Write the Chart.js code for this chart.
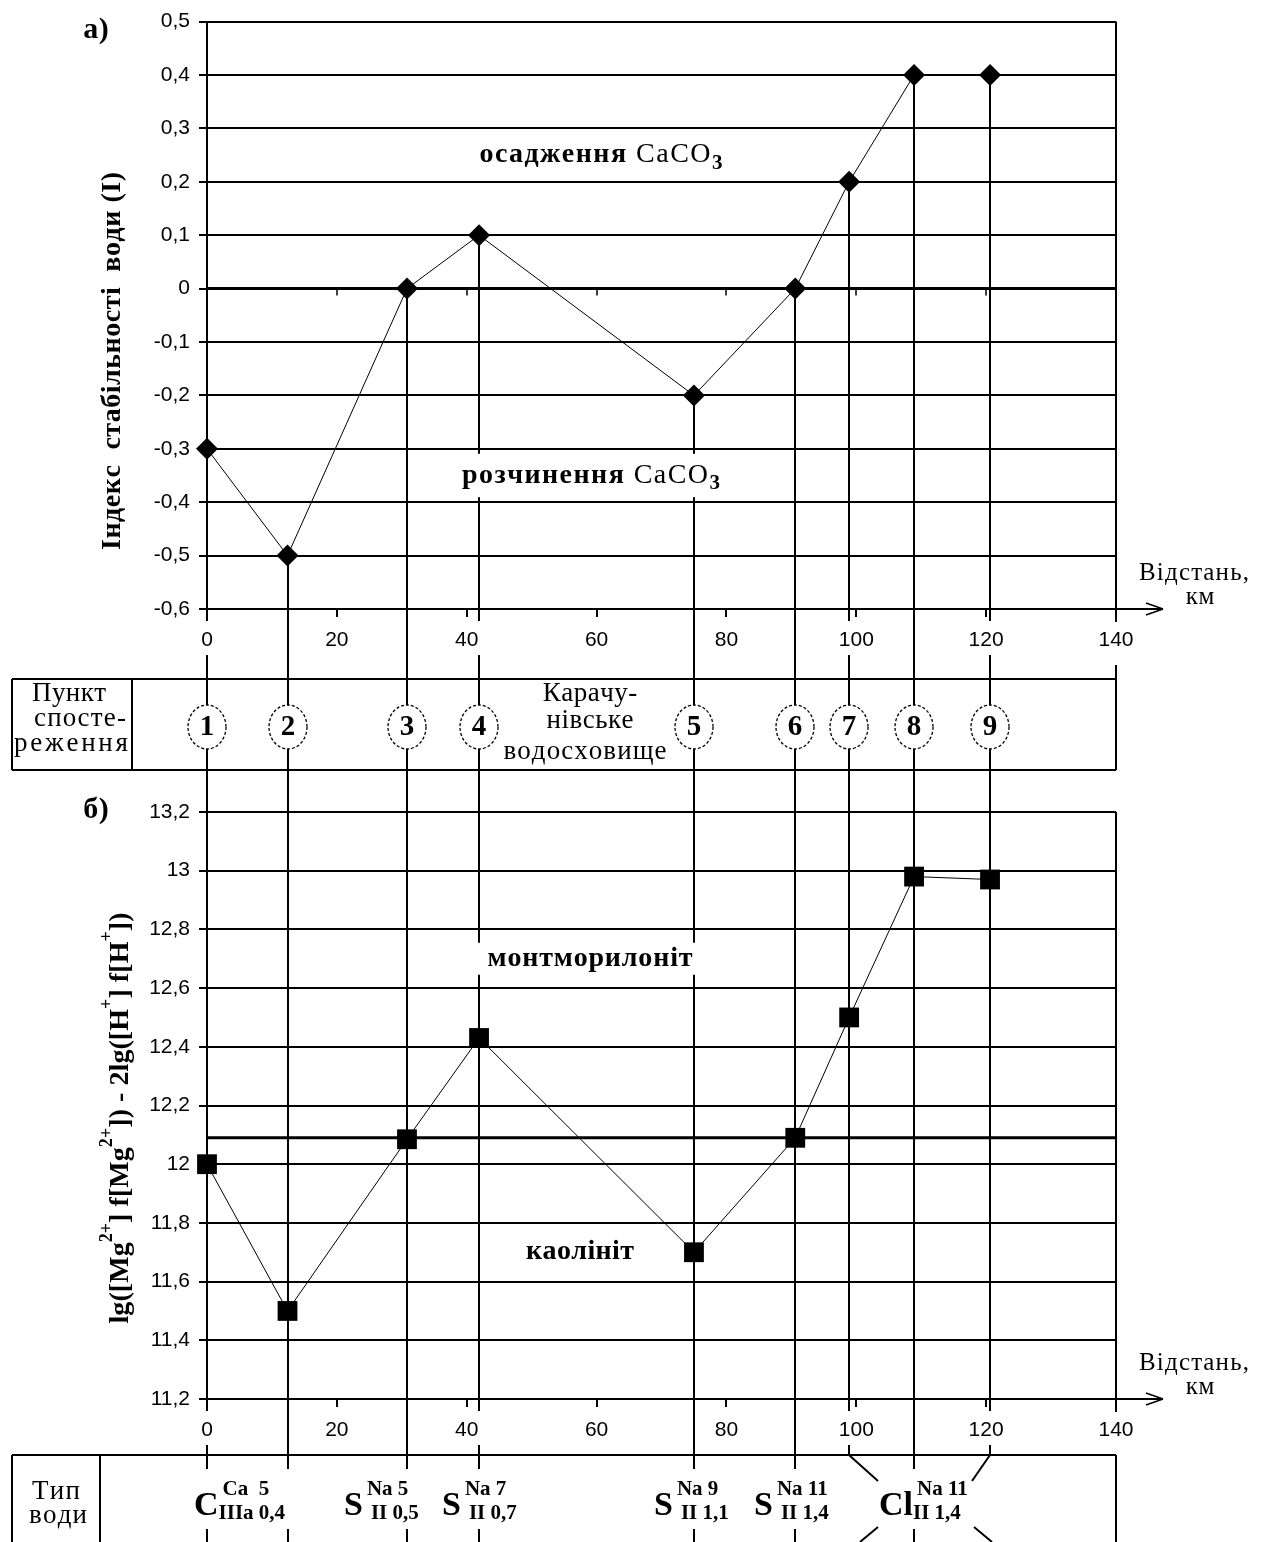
<!DOCTYPE html>
<html>
<head>
<meta charset="utf-8">
<script src="https://cdn.jsdelivr.net/npm/chart.js@4.4.1/dist/chart.umd.min.js"></script>
<style>
body { margin: 0; background: #fff; }
#wrap { position: relative; width: 1272px; height: 1542px; }
canvas { position: absolute; left: 0; }
</style>
</head>
<body>
<div id="wrap">
  <canvas id="chartA" width="1272" height="775" style="top:0"></canvas>
  <canvas id="chartB" width="1272" height="767" style="top:775px"></canvas>
</div>
<script>
// точки спостереження: відстань, км
var distKm = [0, 12.4, 30.8, 41.9, 75.0, 90.6, 98.9, 108.9, 120.6];
var pointNo = ['1', '2', '3', '4', '5', '6', '7', '8', '9'];
// а) індекс стабільності води
var stabIndex = [-0.3, -0.5, 0, 0.1, -0.2, 0, 0.2, 0.4, 0.4];
var stabLimit = 0;
// б) lg([Mg2+] f[Mg2+]) - 2lg([H+] f[H+])
var mgIndex = [12.0, 11.5, 12.085, 12.43, 11.7, 12.09, 12.5, 12.98, 12.97];
var mgLimit = 12.09;
// шкали
var xTicks = { min: 0, max: 140, step: 20 };
var yTicksA = { min: -0.6, max: 0.5, step: 0.1 };
var yTicksB = { min: 11.2, max: 13.2, step: 0.2 };
// тип води
var waterMain = ['C', 'S', 'S', 'S', 'S', 'Cl'];
var waterSup = ['Ca  5', 'Na 5', 'Na 7', 'Na 9', 'Na 11', 'Na 11'];
var waterSub = ['IIIa 0,4', 'II 0,5', 'II 0,7', 'II 1,1', 'II 1,4', 'II 1,4'];

var SERIF = '"Liberation Serif", "DejaVu Serif", serif';
var SANS = '"Liberation Sans", Arial, sans-serif';

var fmtTick = function (v) {
    return String(Math.round(v * 10) / 10).replace('.', ',');
};

// текст з розрядкою (посимвольно), parts: [текст, шрифт, зсув по y]
function drawParts(ctx, parts, cx, cy, width) {
    ctx.textAlign = 'left';
    ctx.textBaseline = 'middle';
    var chars = [];
    parts.forEach(function (p) {
        ctx.font = p[1];
        for (var ch of p[0]) {
            chars.push({ c: ch, f: p[1], dy: p[2] || 0, w: ctx.measureText(ch).width });
        }
    });
    var w0 = 0;
    chars.forEach(function (c) { w0 += c.w; });
    var ls = width ? (width - w0) / (chars.length - 1) : 0.5;
    var x = cx - (w0 + ls * (chars.length - 1)) / 2;
    chars.forEach(function (c) {
        ctx.font = c.f;
        ctx.fillText(c.c, x, cy + c.dy);
        x += c.w + ls;
    });
}

function seg(ctx, x1, y1, x2, y2, w) {
    ctx.beginPath();
    ctx.moveTo(x1, y1);
    ctx.lineTo(x2, y2);
    ctx.lineWidth = w || 2;
    ctx.stroke();
}

function nearLabel(px, xs) {
    for (var v = xTicks.min; v <= xTicks.max; v += xTicks.step) {
        if (Math.abs(px - xs.getPixelForValue(v)) < 22) return true;
    }
    return false;
}

function axisArrow(ctx, ca) {
    var y = ca.bottom;
    seg(ctx, ca.right, y, ca.right + 46, y, 2);
    seg(ctx, ca.right + 30, y - 6, ca.right + 47, y, 1.5);
    seg(ctx, ca.right + 30, y + 6, ca.right + 47, y, 1.5);
    seg(ctx, ca.right, ca.top, ca.right, ca.bottom + 13, 2);
    ctx.fillStyle = '#000';
    drawParts(ctx, [['Відстань,', '25px ' + SERIF]], 1194, y - 36, 110);
    drawParts(ctx, [['км', '25px ' + SERIF]], 1200, y - 12, 0);
}

function formula(ctx, main, sup, sub, x, baseY) {
    ctx.textAlign = 'left';
    ctx.textBaseline = 'alphabetic';
    ctx.font = 'bold 34px ' + SERIF;
    ctx.fillText(main, x, baseY);
    var w = ctx.measureText(main).width;
    ctx.font = 'bold 21px ' + SERIF;
    ctx.fillText(sup, x + w + 4, baseY - 20);
    ctx.fillText(sub, x + w + (main === 'S' ? 8 : 0), baseY + 4);
}

function baseOptions(yt, pad) {
    return {
        responsive: false,
        animation: false,
        layout: { padding: pad },
        plugins: { legend: { display: false }, tooltip: { enabled: false } },
        scales: {
            x: {
                type: 'linear', min: xTicks.min, max: xTicks.max,
                ticks: { stepSize: xTicks.step, color: '#000', font: { family: SANS, size: 21 }, padding: 11, maxRotation: 0, autoSkip: false },
                grid: { drawOnChartArea: false, color: '#000', lineWidth: 2, tickLength: 8 },
                border: { color: '#000', width: 2 },
                afterFit: function (s) { s.height = 40; }
            },
            y: {
                min: yt.min, max: yt.max,
                ticks: { stepSize: yt.step, color: '#000', font: { family: SANS, size: 21 }, padding: 9, autoSkip: false, callback: fmtTick },
                grid: { color: '#000', lineWidth: 2, tickLength: 8 },
                border: { color: '#000', width: 2 },
                afterFit: function (s) { s.width = 207; }
            }
        }
    };
}

// ---------- а) ----------
var decorA = {
    id: 'decorA',
    beforeDatasetsDraw: function (chart) {
        var ctx = chart.ctx, ca = chart.chartArea, xs = chart.scales.x, ys = chart.scales.y;
        ctx.save();
        ctx.strokeStyle = '#000';
        ctx.fillStyle = '#000';
        var tTop = 679, tBot = 770, cy = 727, ry = 22, rx = 19;

        // вертикалі від точок донизу
        distKm.forEach(function (km, i) {
            var px = Math.round(xs.getPixelForValue(km));
            var py = ys.getPixelForValue(stabIndex[i]);
            if (nearLabel(px, xs)) {
                seg(ctx, px, py, px, ca.bottom + 12);
                seg(ctx, px, ca.bottom + 46, px, cy - ry);
            } else {
                seg(ctx, px, py, px, cy - ry);
            }
            seg(ctx, px, cy + ry, px, 775);
        });

        // дрібні поділки на нульовій лінії
        var y0 = ys.getPixelForValue(stabLimit);
        for (var v = xTicks.min + xTicks.step; v < xTicks.max; v += xTicks.step) {
            var tx = Math.round(xs.getPixelForValue(v));
            seg(ctx, tx, y0, tx, y0 + 7, 1.5);
        }

        // підпис з білим тлом
        var rA = ys.getPixelForValue(-0.3), rB = ys.getPixelForValue(-0.4);
        ctx.fillStyle = '#fff';
        ctx.fillRect(455, rA + 5, 275, rB - rA - 10);
        ctx.fillStyle = '#000';
        drawParts(ctx, [['розчинення ', 'bold 28px ' + SERIF], ['CaCO', '28px ' + SERIF], ['3', 'bold 21px ' + SERIF, 8]], 591, (rA + rB) / 2, 258);
        var oA = ys.getPixelForValue(0.3), oB = ys.getPixelForValue(0.2);
        drawParts(ctx, [['осадження ', 'bold 28px ' + SERIF], ['CaCO', '28px ' + SERIF], ['3', 'bold 21px ' + SERIF, 8]], 601, (oA + oB) / 2, 243);

        // таблиця "Пункт спостереження"
        seg(ctx, 12, tTop, ca.right, tTop, 2);
        seg(ctx, 12, tBot, ca.right, tBot, 2);
        seg(ctx, 12, tTop, 12, tBot, 2);
        seg(ctx, 132, tTop, 132, tBot, 2);
        seg(ctx, ca.right, 665, ca.right, tBot, 2);
        drawParts(ctx, [['Пункт', '27px ' + SERIF]], 69, 694, 74);
        drawParts(ctx, [['спосте-', '27px ' + SERIF]], 80, 719, 92);
        drawParts(ctx, [['реження', '27px ' + SERIF]], 71, 744, 114);
        drawParts(ctx, [['Карачу-', '27px ' + SERIF]], 590, 694, 0);
        drawParts(ctx, [['нівське', '27px ' + SERIF]], 590, 721, 0);
        drawParts(ctx, [['водосховище', '27px ' + SERIF]], 585, 752, 163);

        distKm.forEach(function (km, i) {
            var px = Math.round(xs.getPixelForValue(km));
            ctx.save();
            ctx.setLineDash([3, 2]);
            ctx.lineWidth = 1.3;
            ctx.beginPath();
            ctx.ellipse(px, cy, rx, ry, 0, 0, Math.PI * 2);
            ctx.stroke();
            ctx.restore();
            drawParts(ctx, [[pointNo[i], 'bold 29px ' + SERIF]], px, cy + 1, 0);
        });

        // підписи
        drawParts(ctx, [['а)', 'bold 30px ' + SERIF]], 96, 30, 0);
        ctx.save();
        ctx.translate(113, 361);
        ctx.rotate(-Math.PI / 2);
        drawParts(ctx, [['Індекс  стабільності  води (I)', 'bold 28px ' + SERIF]], 0, 0, 378);
        ctx.restore();

        axisArrow(ctx, ca);
        ctx.restore();
    }
};

new Chart(document.getElementById('chartA').getContext('2d'), {
    type: 'line',
    data: {
        datasets: [{
            data: distKm.map(function (x, i) { return { x: x, y: stabIndex[i] }; }),
            borderColor: '#000', borderWidth: 1, backgroundColor: '#000',
            pointStyle: 'rectRot', pointRadius: 11, pointBorderWidth: 0, clip: false
        }, {
            data: [{ x: xTicks.min, y: stabLimit }, { x: xTicks.max, y: stabLimit }],
            borderColor: '#000', borderWidth: 3, pointRadius: 0
        }]
    },
    options: baseOptions(yTicksA, { left: 0, right: 156, top: 20, bottom: 126 }),
    plugins: [decorA]
});

// ---------- б) ----------
var decorB = {
    id: 'decorB',
    beforeDatasetsDraw: function (chart) {
        var ctx = chart.ctx, ca = chart.chartArea, xs = chart.scales.x, ys = chart.scales.y;
        ctx.save();
        ctx.strokeStyle = '#000';
        ctx.fillStyle = '#000';
        var tTop = 680, H = 767, gapTop = 694, gapBot = 754;
        var clX = Math.round(xs.getPixelForValue(distKm[7]));

        distKm.forEach(function (km, i) {
            var px = Math.round(xs.getPixelForValue(km));
            var end = (i === 6 || i === 8) ? tTop : gapTop;
            if (nearLabel(px, xs)) {
                seg(ctx, px, 0, px, ca.bottom + 12);
                seg(ctx, px, ca.bottom + 46, px, end);
            } else {
                seg(ctx, px, 0, px, end);
            }
            if (i === 6) {
                seg(ctx, px, tTop, clX - 36, 706);
                seg(ctx, clX - 36, 752, clX - 54, H);
            } else if (i === 8) {
                seg(ctx, px, tTop, clX + 58, 706);
                seg(ctx, clX + 60, 752, clX + 78, H);
            } else {
                seg(ctx, px, gapBot, px, H);
            }
        });

        // підписи в полі графіка
        var mA = ys.getPixelForValue(12.8), mB = ys.getPixelForValue(12.6);
        ctx.fillStyle = '#fff';
        ctx.fillRect(470, (mA + mB) / 2 - 16, 234, 32);
        ctx.fillStyle = '#000';
        drawParts(ctx, [['монтморилоніт', 'bold 28px ' + SERIF]], 590, (mA + mB) / 2, 205);
        drawParts(ctx, [['каолініт', 'bold 28px ' + SERIF]], 580, ys.getPixelForValue(11.7), 108);

        // таблиця "Тип води"
        seg(ctx, 12, tTop, ca.right, tTop, 2);
        seg(ctx, 12, tTop, 12, H, 2);
        seg(ctx, 100, tTop, 100, H, 2);
        seg(ctx, ca.right, tTop, ca.right, H, 2);
        drawParts(ctx, [['Тип', '27px ' + SERIF]], 56, 717, 48);
        drawParts(ctx, [['води', '27px ' + SERIF]], 58, 741, 58);

        var p = distKm.map(function (km) { return Math.round(xs.getPixelForValue(km)); });
        var left = [p[0] - 13, p[2] - 63, p[3] - 37, p[4] - 40, p[5] - 41, p[7] - 35];
        for (var k = 0; k < waterMain.length; k++) {
            formula(ctx, waterMain[k], waterSup[k], waterSub[k], left[k], 740);
        }

        drawParts(ctx, [['б)', 'bold 30px ' + SERIF]], 96, 35, 0);
        ctx.save();
        ctx.translate(121, 343);
        ctx.rotate(-Math.PI / 2);
        var fb = 'bold 28px ' + SERIF, fs = 'bold 18px ' + SERIF;
        drawParts(ctx, [
            ['lg([Mg', fb], ['2+', fs, -14], ['] f[Mg', fb], ['2+', fs, -14], [']) - 2lg([H', fb],
            ['+', fs, -14], ['] f[H', fb], ['+', fs, -14], ['])', fb]
        ], 0, 0, 411);
        ctx.restore();

        axisArrow(ctx, ca);
        ctx.restore();
    }
};

new Chart(document.getElementById('chartB').getContext('2d'), {
    type: 'line',
    data: {
        datasets: [{
            data: distKm.map(function (x, i) { return { x: x, y: mgIndex[i] }; }),
            borderColor: '#000', borderWidth: 1, backgroundColor: '#000',
            pointStyle: 'rect', pointRadius: 14, pointBorderWidth: 0, clip: false
        }, {
            data: [{ x: xTicks.min, y: mgLimit }, { x: xTicks.max, y: mgLimit }],
            borderColor: '#000', borderWidth: 3, pointRadius: 0
        }]
    },
    options: baseOptions(yTicksB, { left: 0, right: 156, top: 37, bottom: 103 }),
    plugins: [decorB]
});
</script>
</body>
</html>
